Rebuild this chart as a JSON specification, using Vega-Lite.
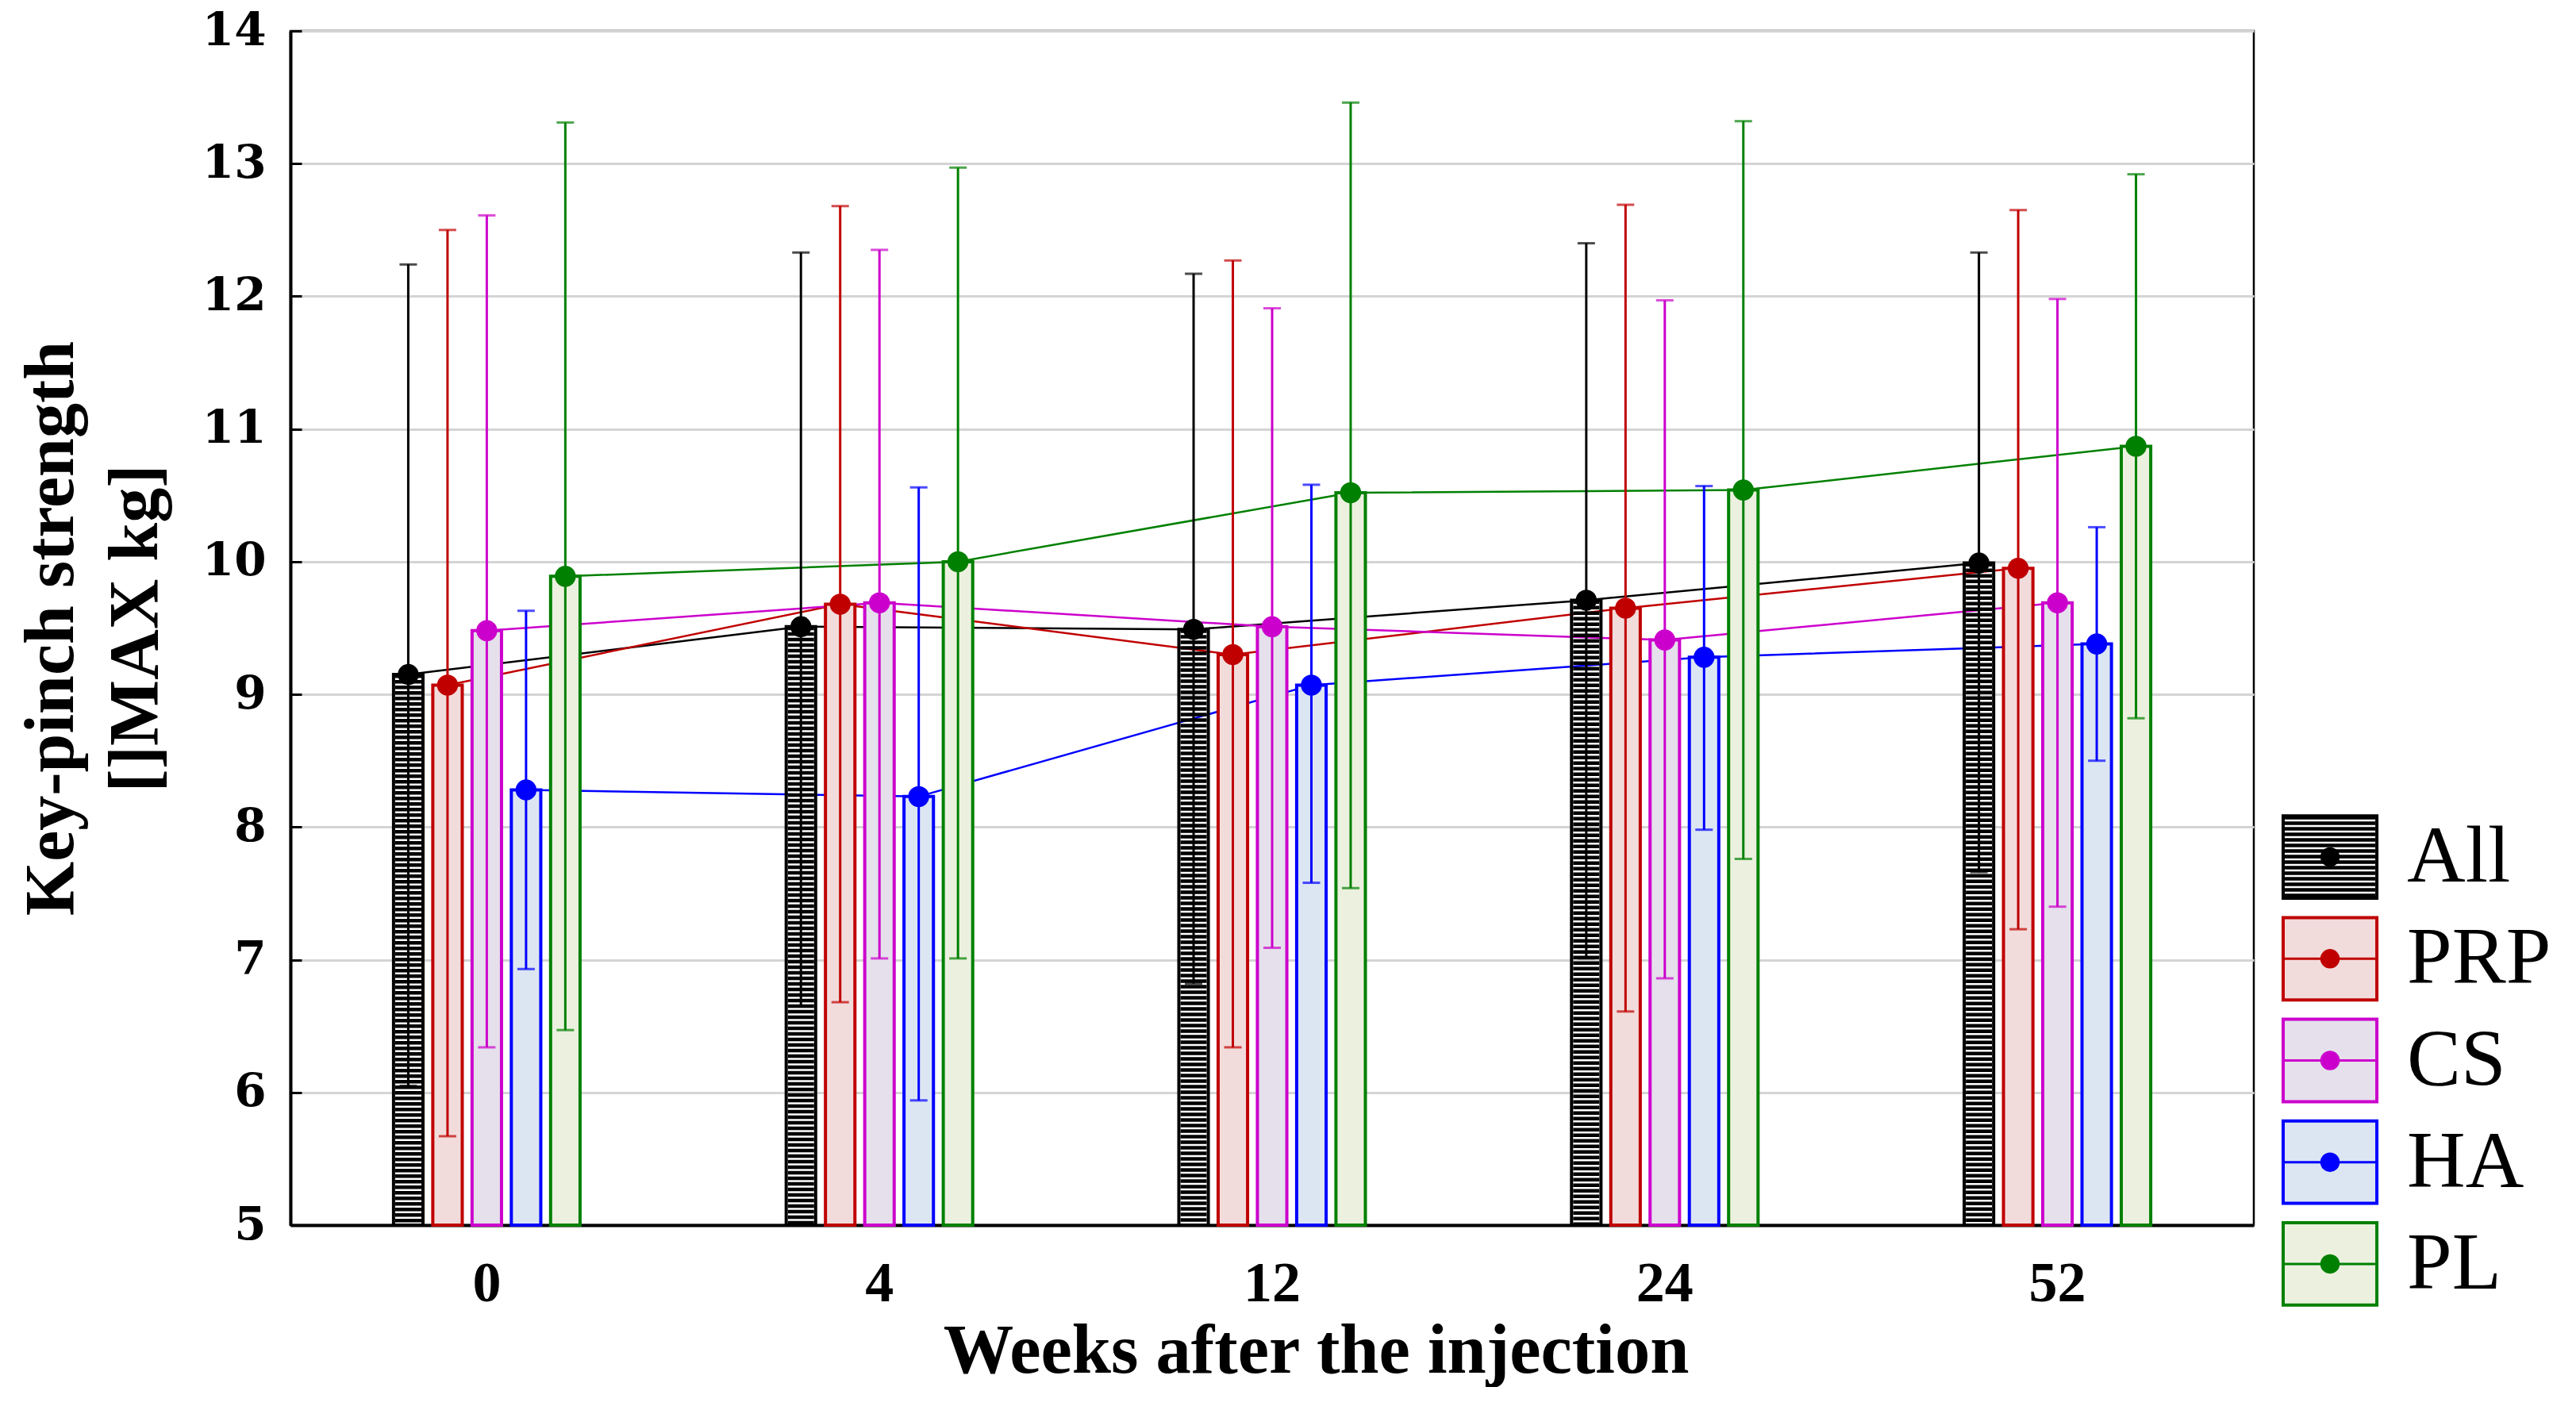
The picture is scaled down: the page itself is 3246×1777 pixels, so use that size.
{
  "$schema": "https://vega.github.io/schema/vega-lite/v6.json",
  "background": "white",
  "padding": {"left": 20, "top": 8, "right": 0, "bottom": 0},
  "bounds": "flush",
  "spacing": 37,
  "config": {
    "font": "Liberation Serif",
    "view": {"stroke": "black", "strokeWidth": 2.5},
    "legend": {"disable": true}
  },
  "datasets": {
    "stats": [
      {"week": "0", "group": "All", "mean": 9.15, "low": 6.05, "high": 12.24},
      {"week": "0", "group": "PRP", "mean": 9.07, "low": 5.67, "high": 12.5},
      {"week": "0", "group": "CS", "mean": 9.48, "low": 6.34, "high": 12.61},
      {"week": "0", "group": "HA", "mean": 8.28, "low": 6.93, "high": 9.63},
      {"week": "0", "group": "PL", "mean": 9.89, "low": 6.47, "high": 13.31},
      {"week": "4", "group": "All", "mean": 9.51, "low": 6.65, "high": 12.33},
      {"week": "4", "group": "PRP", "mean": 9.68, "low": 6.68, "high": 12.68},
      {"week": "4", "group": "CS", "mean": 9.69, "low": 7.01, "high": 12.35},
      {"week": "4", "group": "HA", "mean": 8.23, "low": 5.94, "high": 10.56},
      {"week": "4", "group": "PL", "mean": 10.0, "low": 7.01, "high": 12.97},
      {"week": "12", "group": "All", "mean": 9.49, "low": 6.82, "high": 12.17},
      {"week": "12", "group": "PRP", "mean": 9.3, "low": 6.34, "high": 12.27},
      {"week": "12", "group": "CS", "mean": 9.51, "low": 7.09, "high": 11.91},
      {"week": "12", "group": "HA", "mean": 9.07, "low": 7.58, "high": 10.58},
      {"week": "12", "group": "PL", "mean": 10.52, "low": 7.54, "high": 13.46},
      {"week": "24", "group": "All", "mean": 9.71, "low": 7.01, "high": 12.4},
      {"week": "24", "group": "PRP", "mean": 9.65, "low": 6.61, "high": 12.69},
      {"week": "24", "group": "CS", "mean": 9.41, "low": 6.86, "high": 11.97},
      {"week": "24", "group": "HA", "mean": 9.28, "low": 7.98, "high": 10.57},
      {"week": "24", "group": "PL", "mean": 10.54, "low": 7.76, "high": 13.32},
      {"week": "52", "group": "All", "mean": 9.99, "low": 7.66, "high": 12.33},
      {"week": "52", "group": "PRP", "mean": 9.95, "low": 7.23, "high": 12.65},
      {"week": "52", "group": "CS", "mean": 9.69, "low": 7.4, "high": 11.98},
      {"week": "52", "group": "HA", "mean": 9.38, "low": 8.5, "high": 10.26},
      {"week": "52", "group": "PL", "mean": 10.87, "low": 8.82, "high": 12.92}
    ],
    "groups": [
      {"group": "All"},
      {"group": "PRP"},
      {"group": "CS"},
      {"group": "HA"},
      {"group": "PL"}
    ]
  },
  "hconcat": [
    {
      "width": 2474,
      "height": 1505,
      "data": {"name": "stats"},
      "encoding": {
        "x": {
          "field": "week",
          "type": "ordinal",
          "sort": ["0", "4", "12", "24", "52"],
          "scale": {"paddingInner": 0.5, "paddingOuter": 0.25},
          "axis": {
            "title": "Weeks after the injection",
            "titleX": 1292,
            "titleAlign": "center",
            "labelAngle": 0,
            "labelFont": "Liberation Serif",
            "labelFontWeight": "bold",
            "labelFontSize": 72,
            "labelColor": "black",
            "labelPadding": 52,
            "tickSize": -14,
            "tickColor": "black",
            "tickWidth": 3,
            "domainColor": "black",
            "domainWidth": 4,
            "grid": false,
            "titleFont": "Liberation Serif",
            "titleFontSize": 88.5,
            "titleFontWeight": "bold",
            "titleColor": "black",
            "titlePadding": 6
          }
        },
        "xOffset": {
          "field": "group",
          "type": "nominal",
          "scale": {"domain": ["All", "PRP", "CS", "HA", "PL"], "paddingInner": 0.25, "paddingOuter": 0.125}
        }
      },
      "layer": [
        {
          "mark": {"type": "line", "strokeWidth": 2.5},
          "encoding": {
            "y": {
              "field": "mean",
              "type": "quantitative",
              "scale": {"domain": [5, 14], "nice": false, "zero": false},
              "axis": {
                "title": ["Key-pinch strength", "[]MAX kg]"],
                "tickCount": 9,
                "labelFont": "DejaVu Serif",
                "labelFontWeight": "bold",
                "labelFontSize": 58,
                "labelColor": "black",
                "labelPadding": 45,
                "tickSize": -14,
                "tickColor": "black",
                "tickWidth": 3,
                "domainColor": "black",
                "domainWidth": 4,
                "grid": true,
                "gridColor": "#d4d4d4",
                "gridWidth": 3,
                "titleFont": "Liberation Serif",
                "titleFontSize": 88,
                "titleFontWeight": "bold",
                "titleColor": "black",
                "titleLineHeight": 106,
                "titlePadding": 39
              }
            },
            "stroke": {
              "field": "group",
              "type": "nominal",
              "scale": {"domain": ["All", "PRP", "CS", "HA", "PL"], "range": ["#000000", "#c00000", "#cc00cc", "#0000ff", "#008000"]},
              "legend": null
            }
          }
        },
        {
          "transform": [{"filter": "datum.group === 'All'"}],
          "mark": {"type": "rule", "strokeWidth": 33, "strokeDash": [4.5, 2.5], "color": "black"},
          "encoding": {
            "y": {"field": "mean", "type": "quantitative"},
            "y2": {"datum": 5}
          }
        },
        {
          "mark": {"type": "bar", "strokeWidth": 4},
          "encoding": {
            "y": {"field": "mean", "type": "quantitative"},
            "y2": {"datum": 5},
            "fill": {
              "field": "group",
              "type": "nominal",
              "scale": {"domain": ["All", "PRP", "CS", "HA", "PL"], "range": ["transparent", "#f2dcdb", "#e5e0ec", "#dce6f2", "#ebf1de"]},
              "legend": null
            },
            "stroke": {"field": "group", "type": "nominal", "legend": null}
          }
        },
        {
          "mark": {"type": "rule", "strokeWidth": 3},
          "encoding": {
            "y": {"field": "low", "type": "quantitative"},
            "y2": {"field": "high"},
            "stroke": {"field": "group", "type": "nominal", "legend": null}
          }
        },
        {
          "mark": {"type": "tick", "orient": "horizontal", "size": 22, "thickness": 3},
          "encoding": {
            "y": {"field": "high", "type": "quantitative"},
            "color": {
              "field": "group",
              "type": "nominal",
              "scale": {"domain": ["All", "PRP", "CS", "HA", "PL"], "range": ["#000000", "#c00000", "#cc00cc", "#0000ff", "#008000"]},
              "legend": null
            }
          }
        },
        {
          "mark": {"type": "tick", "orient": "horizontal", "size": 22, "thickness": 3},
          "encoding": {
            "y": {"field": "low", "type": "quantitative"},
            "color": {"field": "group", "type": "nominal", "legend": null}
          }
        },
        {
          "mark": {"type": "point", "filled": true, "size": 700, "opacity": 1},
          "encoding": {
            "y": {"field": "mean", "type": "quantitative"},
            "color": {"field": "group", "type": "nominal", "legend": null}
          }
        }
      ]
    },
    {
      "width": 369,
      "height": 1505,
      "view": {"stroke": null},
      "data": {"name": "groups"},
      "encoding": {
        "y": {
          "field": "group",
          "type": "nominal",
          "scale": {"domain": ["All", "PRP", "CS", "HA", "PL"], "range": [977, 1618], "paddingInner": 0.19, "paddingOuter": 0.095},
          "axis": null
        }
      },
      "layer": [
        {
          "transform": [{"filter": "datum.group === 'All'"}],
          "mark": {"type": "rule", "strokeWidth": 114, "strokeDash": [4.5, 2.5], "color": "black"},
          "encoding": {
            "x": {"datum": 1.6, "type": "quantitative", "scale": {"domain": [0, 10], "nice": false, "zero": false}, "axis": null},
            "y": {"field": "group", "type": "nominal", "bandPosition": 0},
            "y2": {"field": "group", "bandPosition": 1}
          }
        },
        {
          "mark": {"type": "bar", "strokeWidth": 4},
          "encoding": {
            "x": {"datum": 0, "type": "quantitative"},
            "x2": {"datum": 3.2},
            "fill": {
              "field": "group",
              "type": "nominal",
              "scale": {"domain": ["All", "PRP", "CS", "HA", "PL"], "range": ["transparent", "#f2dcdb", "#e5e0ec", "#dce6f2", "#ebf1de"]},
              "legend": null
            },
            "stroke": {
              "field": "group",
              "type": "nominal",
              "scale": {"domain": ["All", "PRP", "CS", "HA", "PL"], "range": ["#000000", "#c00000", "#cc00cc", "#0000ff", "#008000"]},
              "legend": null
            }
          }
        },
        {
          "mark": {"type": "rule", "strokeWidth": 3},
          "encoding": {
            "x": {"datum": 0, "type": "quantitative"},
            "x2": {"datum": 3.2},
            "stroke": {"field": "group", "type": "nominal", "legend": null}
          }
        },
        {
          "mark": {"type": "point", "filled": true, "size": 600, "opacity": 1},
          "encoding": {
            "x": {"datum": 1.6, "type": "quantitative"},
            "color": {
              "field": "group",
              "type": "nominal",
              "scale": {"domain": ["All", "PRP", "CS", "HA", "PL"], "range": ["#000000", "#c00000", "#cc00cc", "#0000ff", "#008000"]},
              "legend": null
            }
          }
        },
        {
          "mark": {"type": "text", "align": "left", "baseline": "middle", "font": "Liberation Serif", "fontSize": 102, "color": "black"},
          "encoding": {
            "x": {"datum": 4.23, "type": "quantitative"},
            "text": {"field": "group"}
          }
        }
      ]
    }
  ]
}
